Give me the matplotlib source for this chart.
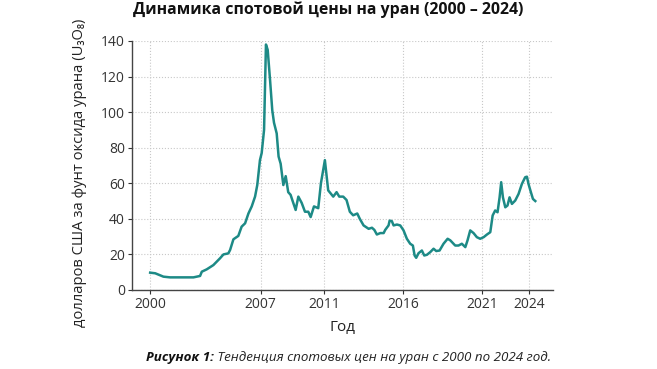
import matplotlib
matplotlib.use("Agg")
import matplotlib.pyplot as plt

plt.rcParams['font.family'] = ['Open Sans', 'DejaVu Sans']

years = [2000.00, 2000.32, 2000.84, 2001.26, 2002.74, 2003.16, 2003.27, 2003.58, 2004.00, 2004.42,
         2004.64, 2004.95, 2005.06, 2005.27, 2005.58, 2005.79, 2006.01, 2006.22, 2006.43, 2006.64,
         2006.78, 2006.95, 2007.06, 2007.21, 2007.33, 2007.44, 2007.59, 2007.73, 2007.84, 2008.01,
         2008.13, 2008.26, 2008.43, 2008.58, 2008.74, 2008.89, 2009.02, 2009.21, 2009.38, 2009.59,
         2009.80, 2010.01, 2010.16, 2010.37, 2010.64, 2010.81, 2011.06, 2011.27, 2011.59, 2011.80,
         2011.97, 2012.22, 2012.43, 2012.64, 2012.85, 2013.11, 2013.27, 2013.51, 2013.83, 2014.04,
         2014.19, 2014.35, 2014.57, 2014.78, 2014.88, 2015.09, 2015.16, 2015.30, 2015.41, 2015.62,
         2015.83, 2016.04, 2016.25, 2016.46, 2016.63, 2016.74, 2016.84, 2016.99, 2017.20, 2017.35,
         2017.52, 2017.73, 2017.94, 2018.11, 2018.32, 2018.57, 2018.83, 2019.00, 2019.31, 2019.52,
         2019.73, 2019.95, 2020.09, 2020.26, 2020.47, 2020.68, 2020.89, 2021.11, 2021.32, 2021.53,
         2021.68, 2021.84, 2021.99, 2022.12, 2022.22, 2022.33, 2022.48, 2022.62, 2022.75, 2022.90,
         2023.11, 2023.32, 2023.53, 2023.74, 2023.85, 2023.95, 2024.10, 2024.23, 2024.38]
prices = [9.75, 9.4, 7.5, 7.1, 7.1, 7.9, 10.3, 11.6, 14.0, 17.8,
          20.0, 20.6, 22.5, 28.5, 30.4, 35.6, 37.5, 43.0, 47.0, 52.5,
          59.0, 73.0, 77.0, 90.0, 138.0, 135.0, 118.0, 101.0, 94.0, 88.0,
          75.0, 71.0, 59.0, 64.0, 55.0, 53.5, 50.0, 45.0, 52.5, 49.0,
          44.0, 44.0, 41.0, 47.0, 46.0, 60.0, 73.0, 56.0, 52.5, 55.0,
          52.5, 52.5, 50.6, 44.0, 42.0, 43.0, 40.0, 36.3, 34.4, 35.0,
          33.8, 31.2, 32.0, 32.0, 33.8, 36.3, 39.0, 38.7, 36.3, 36.8,
          36.3, 33.5, 28.8, 26.0, 25.0, 19.4, 18.1, 20.7, 22.2, 19.4,
          19.8, 21.3, 23.2, 21.9, 22.2, 26.0, 28.8, 27.9, 25.0, 25.0,
          26.0, 24.1, 27.9, 33.5, 32.0, 29.7, 28.8, 29.7, 31.2, 32.5,
          41.9, 44.7, 43.7, 52.1, 60.6, 52.1, 46.5, 47.5, 52.1, 48.4,
          50.3, 54.0, 59.6, 63.4, 63.7, 59.6, 55.0, 51.2, 50.0]

xticks = [2000, 2007, 2011, 2016, 2021, 2024]
yticks = [0, 20, 40, 60, 80, 100, 120, 140]

title = "Динамика спотовой цены на уран (2000 – 2024)"
xlabel = "Год"
ylabel = "долларов США за фунт оксида урана (U₃O₈)"
caption_bold = "Рисунок 1:"
caption_rest = " Тенденция спотовых цен на уран с 2000 по 2024 год."

fig = plt.figure(figsize=(6.57, 3.69), dpi=100)
ax = fig.add_axes([0.2009, 0.2141, 0.6408, 0.6749])

ax.plot(years, prices, color='#1d8a86', linewidth=1.8)
ax.set_xlim(1998.85, 2025.5)
ax.set_ylim(0, 140)
ax.set_xticks(xticks)
ax.set_yticks(yticks)
ax.grid(True, linestyle=':', color='#c8c8c8', linewidth=0.8)
for s in ['top', 'right']:
    ax.spines[s].set_visible(False)
for s in ['left', 'bottom']:
    ax.spines[s].set_color('#444444')
    ax.spines[s].set_linewidth(1.0)
ax.tick_params(axis='both', labelsize=10, colors='#333333', length=3, width=0.8, pad=2)

ax.set_xlabel(xlabel, fontsize=11, color='#222222', labelpad=6)
ax.set_ylabel(ylabel, fontsize=10.6, color='#222222')
ax.yaxis.set_label_coords(-0.108, 0.47)
fig.text(0.5, 0.997, title, ha='center', va='top', fontsize=11.4, fontweight='bold', color='#111111')

fig.canvas.draw()
r = fig.canvas.get_renderer()
t1 = fig.text(0.0, 0.022, caption_bold, fontsize=9.6, fontweight='bold', style='italic', color='#111111', va='baseline')
t2 = fig.text(0.0, 0.022, caption_rest, fontsize=9.6, style='italic', color='#222222', va='baseline')
w1 = t1.get_window_extent(r).width / fig.bbox.width
w2 = t2.get_window_extent(r).width / fig.bbox.width
x0 = 0.531 - (w1 + w2) / 2
t1.set_x(x0)
t2.set_x(x0 + w1)

fig.savefig('out.png', dpi=100)
